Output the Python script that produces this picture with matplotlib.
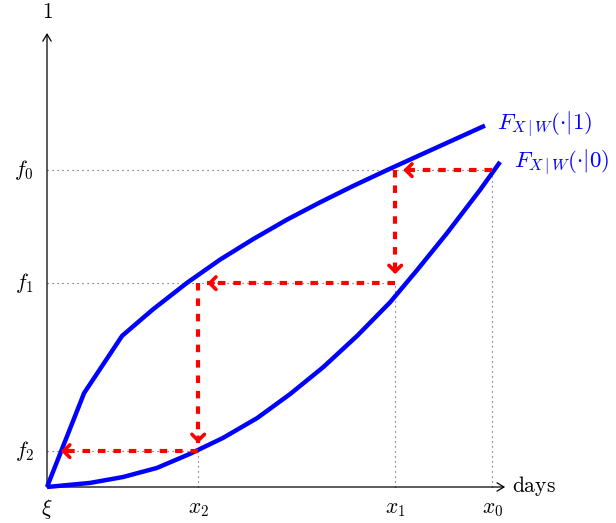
import matplotlib.pyplot as plt
import numpy as np

plt.rcParams['mathtext.fontset'] = 'cm'
plt.rcParams['font.family'] = ['DejaVu Serif']

upper_x = [0, 0.81, 1.64, 2.31, 3.06, 3.78, 4.50, 5.24, 5.96, 6.68, 7.42, 8.14, 8.86, 9.56]
upper_y = [0, 0.207, 0.333, 0.391, 0.450, 0.501, 0.546, 0.589, 0.627, 0.663, 0.698, 0.731, 0.764, 0.796]
lower_x = [0, 0.94, 1.66, 2.40, 3.12, 3.84, 4.59, 5.31, 6.03, 6.77, 7.49, 8.08, 8.73, 9.45, 9.89]
lower_y = [0, 0.009, 0.022, 0.042, 0.073, 0.108, 0.152, 0.205, 0.264, 0.333, 0.407, 0.478, 0.559, 0.654, 0.716]

# iteration points
xs = {'x_0': 9.72, 'x_1': 7.60, 'x_2': 3.30}
fs = {'f_0': 0.698, 'f_1': 0.449, 'f_2': 0.079}
x_end = 10.0
y_end = 1.0

fig = plt.figure(figsize=(6.16, 5.23), dpi=100)
ax = fig.add_axes([0, 0, 1, 1])
ax.set_xlim(-1.026, 12.42)
ax.set_ylim(-0.0793, 1.0727)
ax.axis('off')

blue = (0, 0, 1)
red = (1, 0, 0)
fs_txt = 15.5

# axes with open arrow heads
ax.annotate('', xy=(x_end, 0), xytext=(0, 0),
            arrowprops=dict(arrowstyle='->,head_length=0.5,head_width=0.3', lw=0.9,
                            color='black', shrinkA=0, shrinkB=0))
ax.annotate('', xy=(0, y_end), xytext=(0, 0),
            arrowprops=dict(arrowstyle='->,head_length=0.5,head_width=0.3', lw=0.9,
                            color='black', shrinkA=0, shrinkB=0))
ax.annotate('$1$', xy=(0, y_end), xytext=(0, 7), textcoords='offset points',
            ha='center', va='bottom', fontsize=fs_txt)
ax.annotate(r'$\mathrm{days}$', xy=(x_end, 0), xytext=(5, -3.5), textcoords='offset points',
            ha='left', va='baseline', fontsize=fs_txt)
ax.annotate(r'$\xi$', xy=(0, 0), xytext=(0, -7), textcoords='offset points',
            ha='center', va='top', fontsize=fs_txt)

# dotted guide lines
dot = dict(color='0.3', lw=0.8, linestyle=(0, (1, 3.5)), zorder=1)
for (fk, fv), (xk, xv) in zip(fs.items(), xs.items()):
    ax.plot([0, xv], [fv, fv], **dot)
    ax.plot([xv, xv], [0, fv], **dot)
for k, v in fs.items():
    ax.annotate('$%s$' % k, xy=(0, v), xytext=(-9.5, 0), textcoords='offset points',
                ha='right', va='center', fontsize=fs_txt)
for k, v in xs.items():
    ax.annotate('$%s$' % k, xy=(v, 0), xytext=(0, -7), textcoords='offset points',
                ha='center', va='top', fontsize=fs_txt)

# the two curves
ax.plot(upper_x, upper_y, color=blue, lw=3.2, solid_capstyle='butt',
        solid_joinstyle='round', zorder=3)
ax.plot(lower_x, lower_y, color=blue, lw=3.2, solid_capstyle='butt',
        solid_joinstyle='round', zorder=3)
ax.annotate(r'$F_{X\,|\,W}(\cdot|1)$', xy=(upper_x[-1], upper_y[-1]), xytext=(9, 1),
            textcoords='offset points', ha='left', va='center', color=blue, fontsize=16.5)
ax.annotate(r'$F_{X\,|\,W}(\cdot|0)$', xy=(lower_x[-1], lower_y[-1]), xytext=(10, 0),
            textcoords='offset points', ha='left', va='center', color=blue, fontsize=16.5)


def red_arrow(p, q, gap):
    # dashed shaft with a solid open head, stopping gap pixels before q
    P = ax.transData.transform(p)
    Q = ax.transData.transform(q)
    d = (Q - P) / np.hypot(*(Q - P))
    tip = ax.transData.inverted().transform(Q - d * gap)
    back = ax.transData.inverted().transform(Q - d * (gap + 6))
    ax.plot([p[0], tip[0]], [p[1], tip[1]], color=red, lw=3,
            linestyle=(0, (1.8, 1.9)), dash_capstyle='butt', zorder=4)
    ax.annotate('', xy=tip, xytext=back,
                arrowprops=dict(arrowstyle='->,head_length=0.45,head_width=0.45', lw=2.6,
                                color=red, shrinkA=0, shrinkB=0), zorder=4)


x0, x1, x2 = xs['x_0'], xs['x_1'], xs['x_2']
f0, f1, f2 = fs['f_0'], fs['f_1'], fs['f_2']
red_arrow((x0, f0), (x1, f0), 8)
red_arrow((x1, f0), (x1, f1), 9)
red_arrow((x1, f1), (x2, f1), 9)
red_arrow((x2, f1), (x2, f2), 8)
red_arrow((x2, f2), (0, f2), 14)

fig.savefig('out.png', dpi=100)
